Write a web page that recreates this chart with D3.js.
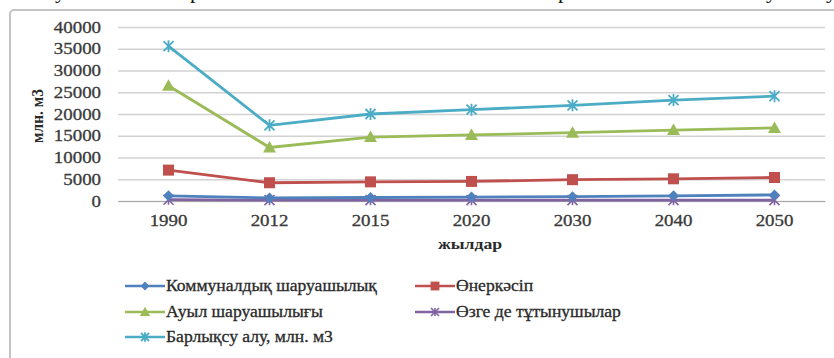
<!DOCTYPE html>
<html>
<head>
<meta charset="utf-8">
<script src="https://cdn.jsdelivr.net/npm/d3@7"></script>
<style>
  body { margin: 0; background: #fff; }
  svg { display: block; }
  svg text { font-family: "Liberation Serif", "Times New Roman", "DejaVu Serif", serif !important; }
</style>
</head>
<body>
<div id="chart"></div>
<script>
// data
const years = ['1990', '2012', '2015', '2020', '2030', '2040', '2050'];
const yTicks = [0, 5000, 10000, 15000, 20000, 25000, 30000, 35000, 40000];
const communal = [1200, 700, 800, 900, 1000, 1200, 1400];
const industry = [7100, 4200, 4400, 4500, 4900, 5100, 5400];
const agriculture = [26500, 12300, 14700, 15200, 15700, 16300, 16800];
const others = [300, 200, 200, 200, 200, 200, 200];
const total = [35600, 17400, 20000, 21000, 22000, 23200, 24100];

const seriesNames = ['Коммуналдық шаруашылық', 'Өнеркәсіп', 'Ауыл шаруашылығы', 'Өзге де тұтынушылар', 'Барлықсу алу, млн. м3'];

const W = 834, H = 358;
const margin = {top: 27, right: 9, bottom: 157, left: 118};
const stretch = 1.18;   // the picture is a bit wider than tall

const series = [
  {name: seriesNames[4], values: total, color: '#4BACC6', marker: 'asterisk'},
  {name: seriesNames[2], values: agriculture, color: '#9BBB59', marker: 'triangle'},
  {name: seriesNames[1], values: industry, color: '#C0504D', marker: 'square'},
  {name: seriesNames[3], values: others, color: '#8064A2', marker: 'star'},
  {name: seriesNames[0], values: communal, color: '#4F81BD', marker: 'diamond'}
];

const svg = d3.select('#chart').append('svg')
  .attr('width', W).attr('height', H);

// bottom of the cropped text line above the chart
const topLine = [['у', 55], ['р', 190], ['р', 558], ['у', 766], ['у', 826]];
svg.selectAll('.cut').data(topLine).enter().append('text')
  .attr('x', d => d[1]).attr('y', -2)
  .attr('font-size', 22).attr('fill', '#111')
  .text(d => d[0]);

// chart frame
svg.append('rect')
  .attr('x', 10).attr('y', 10)
  .attr('width', W + 20).attr('height', H + 20)
  .attr('rx', 4)
  .attr('fill', 'none').attr('stroke', '#c4c4c4').attr('stroke-width', 2);

const x = d3.scaleBand().domain(years)
  .range([margin.left, W - margin.right]);
const y = d3.scaleLinear().domain([0, 40000])
  .range([H - margin.bottom, margin.top]);

// widen axis texts around their anchor
function widen(sel, k) {
  sel.each(function() {
    const t = d3.select(this);
    const tx = +t.attr('x') || 0;
    t.attr('x', 0).attr('transform', `translate(${tx},0) scale(${k},1)`);
  });
}

// grid
svg.append('g')
  .attr('transform', `translate(${margin.left},0)`)
  .call(d3.axisLeft(y).tickValues(yTicks).tickSize(-(W - margin.left - margin.right)).tickFormat(''))
  .call(g => g.select('.domain').remove())
  .call(g => g.selectAll('line').attr('stroke', '#d2d2d2').attr('stroke-width', 1.5));

// y tick labels
svg.append('g')
  .attr('transform', `translate(${margin.left - 14},0)`)
  .call(d3.axisLeft(y).tickValues(yTicks).tickSize(0).tickFormat(d => d))
  .call(g => g.select('.domain').remove())
  .call(g => g.selectAll('text')
    .attr('font-size', 16).attr('fill', '#3a3a3a')
    .attr('stroke', '#3a3a3a').attr('stroke-width', 0.3)
    .call(widen, stretch));

// x axis
svg.append('g')
  .attr('transform', `translate(0,${y(0)})`)
  .call(d3.axisBottom(x).tickSize(0).tickPadding(14))
  .call(g => g.select('.domain').attr('stroke', '#a8a8a8').attr('stroke-width', 1.2))
  .call(g => g.selectAll('text')
    .attr('font-size', 16).attr('fill', '#3a3a3a')
    .attr('stroke', '#3a3a3a').attr('stroke-width', 0.3)
    .call(widen, stretch));

// axis titles
svg.append('text')
  .attr('transform', `translate(43,${(y(0) + y(40000)) / 2 + 2}) rotate(-90) scale(1.1,1.15)`)
  .attr('text-anchor', 'middle')
  .attr('font-weight', 'bold').attr('font-size', 14).attr('fill', '#2a2a2a')
  .text('млн. м3');
svg.append('text')
  .attr('transform', `translate(470,249) scale(${stretch},1)`)
  .attr('text-anchor', 'middle')
  .attr('font-weight', 'bold').attr('font-size', 15).attr('fill', '#2a2a2a')
  .text('жылдар');

function drawMarker(g, type, color, k) {
  k = k || 1;
  if (type === 'diamond') {
    g.append('path').attr('d', `M0,${-5.5 * k}L${5.5 * k},0L0,${5.5 * k}L${-5.5 * k},0Z`).attr('fill', color);
  } else if (type === 'square') {
    g.append('rect').attr('x', -5.5 * k).attr('y', -5.5 * k).attr('width', 11 * k).attr('height', 11 * k).attr('fill', color);
  } else if (type === 'triangle') {
    g.append('path').attr('d', `M0,${-6.5 * k}L${6.5 * k},${5 * k}L${-6.5 * k},${5 * k}Z`).attr('fill', color);
  } else if (type === 'star') {
    g.append('path').attr('d', `M${-5 * k},${-5 * k}L${5 * k},${5 * k}M${-5 * k},${5 * k}L${5 * k},${-5 * k}M0,${-5 * k}V${5 * k}`).attr('stroke', color).attr('stroke-width', 1.6);
  } else if (type === 'asterisk') {
    g.append('path').attr('d', `M${-5 * k},${-5 * k}L${5 * k},${5 * k}M${-5 * k},${5 * k}L${5 * k},${-5 * k}M0,${-6 * k}V${6 * k}`).attr('stroke', color).attr('stroke-width', 1.8);
  }
}

const line = d3.line()
  .x((d, i) => x(years[i]) + x.bandwidth() / 2)
  .y(d => y(d));

series.forEach(s => {
  svg.append('path')
    .datum(s.values)
    .attr('d', line)
    .attr('fill', 'none')
    .attr('stroke', s.color)
    .attr('stroke-width', 2.8);
  s.values.forEach((v, i) => {
    const g = svg.append('g')
      .attr('transform', `translate(${x(years[i]) + x.bandwidth() / 2},${y(v)})`);
    drawMarker(g, s.marker, s.color);
  });
});

// legend: communal, industry / agriculture, others / total
const legendPos = [[125, 286], [415, 286], [125, 312], [415, 312], [125, 337]];
const legendOrder = [series[4], series[2], series[1], series[3], series[0]];
legendOrder.forEach((s, k) => {
  const g = svg.append('g').attr('transform', `translate(${legendPos[k][0]},${legendPos[k][1]})`);
  g.append('line').attr('x1', 0).attr('x2', 40).attr('stroke', s.color).attr('stroke-width', 2.6);
  const m = g.append('g').attr('transform', 'translate(20,0)');
  drawMarker(m, s.marker, s.color, 0.8);
  g.append('text')
    .attr('transform', 'translate(41,5) scale(1.1,1)')
    .attr('font-size', 16).attr('fill', '#2a2a2a')
    .attr('stroke', '#2a2a2a').attr('stroke-width', 0.3)
    .text(s.name);
});
</script>
</body>
</html>
